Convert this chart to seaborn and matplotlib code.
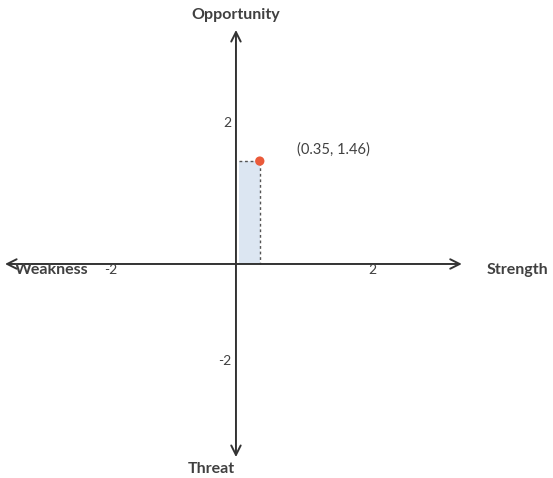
import numpy as np
import pandas as pd
import seaborn as sns
import matplotlib.pyplot as plt

# Datos del punto (fortaleza/oportunidad)
x_vals = [0.35]
y_vals = [1.46]
x_ticks = [-2, 2]
y_ticks = [2, -2]
point_label = '(0.35, 1.46)'

df = pd.DataFrame({'x': x_vals, 'y': y_vals})

sns.set_theme(style='white')
plt.rcParams['font.family'] = ['Lato', 'DejaVu Sans']

fig = plt.figure(figsize=(5.53, 4.78), dpi=100)
ax = fig.add_axes([0, 0, 1, 1])

# escalas con la parte negativa comprimida, como en la imagen original
def make_scale(neg):
    def fwd(v):
        v = np.asarray(v, dtype=float)
        return np.where(v < 0, v * neg, v)
    def inv(v):
        v = np.asarray(v, dtype=float)
        return np.where(v < 0, v / neg, v)
    return fwd, inv

ax.set_xscale('function', functions=make_scale(0.92))
ax.set_yscale('function', functions=make_scale(0.69))

ax.set_xlim(-3.77, 4.66)
ax.set_ylim(-4.40, 3.745)
ax.axis('off')

axis_col = '#333333'
text_col = '#404040'

# ejes con flechas
arrow = dict(arrowstyle='<->', color=axis_col, lw=1.4,
             mutation_scale=17, shrinkA=0, shrinkB=0)
ax.annotate('', xy=(-3.69, 0), xytext=(3.32, 0), arrowprops=arrow)
ax.annotate('', xy=(0, 3.32), xytext=(0, -3.97), arrowprops=arrow)

# rectangulo sombreado (solo bordes superior y derecho punteados)
px, py = df['x'][0], df['y'][0]
ax.bar(0.05, py, width=px - 0.05, align='edge', color='#dce6f2', edgecolor='none')
ax.plot([0.05, px, px], [py, py, 0], color='#555555',
        linestyle=(0, (2, 2)), lw=1.0)

sns.scatterplot(data=df, x='x', y='y', ax=ax, color='#ea5a3a', s=45,
                edgecolor='none', zorder=5)
ax.text(px + 1.08, py + 0.17, point_label, ha='center',
        va='center', fontsize=10.5, color=text_col)

# etiquetas de ticks
for t in x_ticks:
    ax.text(t, -0.13, str(t), ha='center', va='center', fontsize=10, color=text_col)
for t in y_ticks:
    ax.text(-0.08, t, str(t), ha='right', va='center', fontsize=10, color=text_col)

# nombres de los ejes
ax.text(0.0, 3.53, 'Opportunity', ha='center', va='center', fontsize=11.5,
        fontweight='bold', color=text_col)
ax.text(-0.4, -4.22, 'Threat', ha='center', va='center', fontsize=11.5,
        fontweight='bold', color=text_col)
ax.text(-3.53, -0.13, 'Weakness', ha='left', va='center', fontsize=11.5,
        fontweight='bold', color=text_col)
ax.text(3.68, -0.13, 'Strength', ha='left', va='center', fontsize=11.5,
        fontweight='bold', color=text_col)

plt.savefig('out.png', dpi=100)
